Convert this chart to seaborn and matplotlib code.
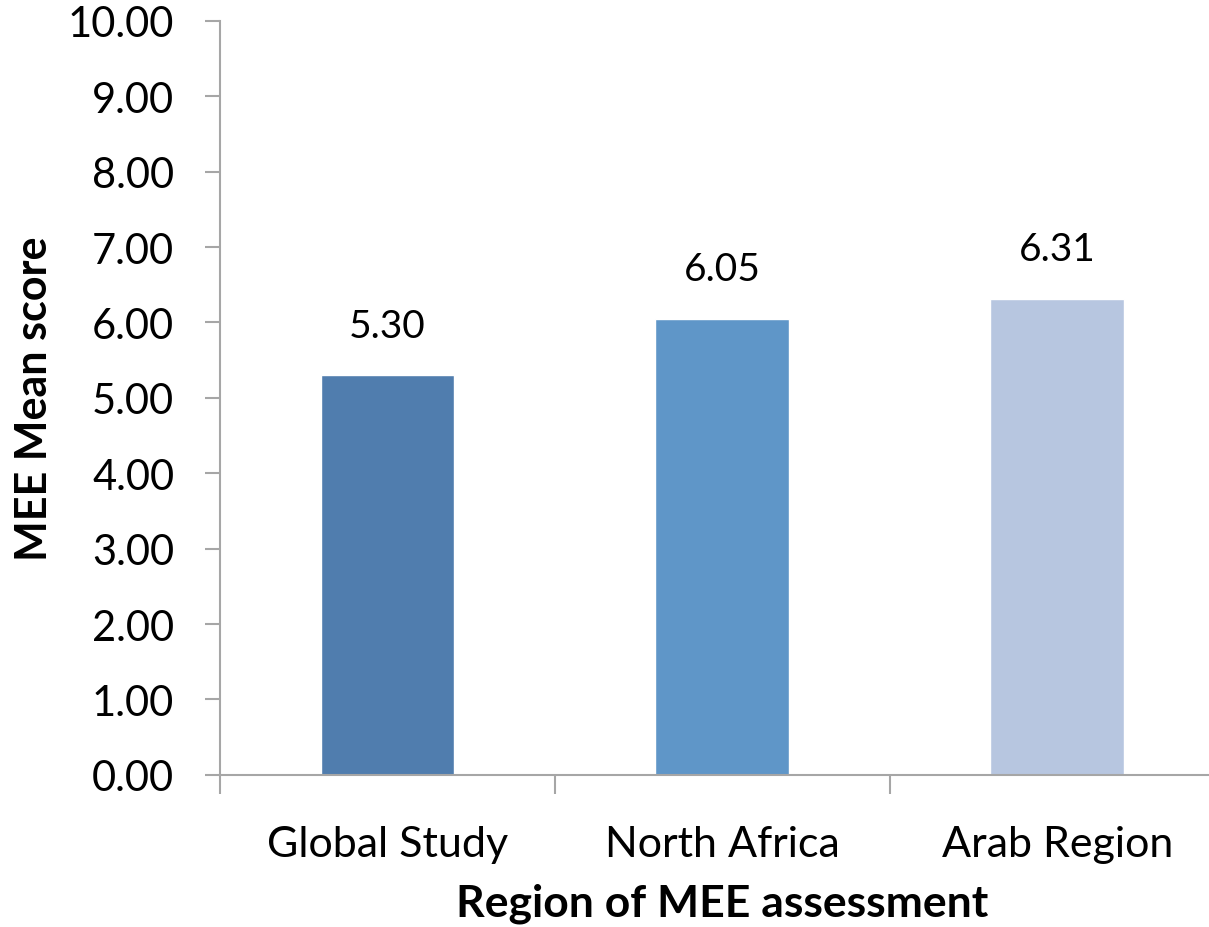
import matplotlib
matplotlib.use("Agg")
import matplotlib.pyplot as plt
import seaborn as sns
import pandas as pd

regions = ["Global Study", "North Africa", "Arab Region"]
scores = [5.30, 6.05, 6.31]
colors = ["#507DAE", "#5F96C8", "#B7C6E0"]

data = pd.DataFrame({"Region": regions, "Score": scores})

sns.set_style("white")
plt.rcParams["font.family"] = ["Lato", "DejaVu Sans"]
plt.rcParams["text.color"] = "black"
plt.rcParams["axes.labelcolor"] = "black"
plt.rcParams["xtick.labelcolor"] = "black"
plt.rcParams["ytick.labelcolor"] = "black"

fig = plt.figure(figsize=(12.09, 9.28), dpi=100)
ax = fig.add_axes([0.182, 0.164, 0.831, 0.8125])

sns.barplot(data=data, x="Region", y="Score", hue="Region", palette=colors,
            width=0.4, legend=False, ax=ax, saturation=1)

for i, v in enumerate(scores):
    ax.text(i, v + 0.42, f"{v:.2f}", ha="center", va="bottom", fontsize=28)

ax.set_xlim(-0.5, 2.5)
ax.set_ylim(0, 10)
ax.set_yticks(range(0, 11))
ax.set_yticklabels([f"{t:.2f}" for t in range(0, 11)], fontsize=30)
ax.tick_params(axis="y", length=11, width=1.5, color="#A6A6A6", direction="out", left=True, pad=22)
ax.tick_params(axis="x", which="major", length=0, labelsize=31, pad=36)
ax.set_xticks([-0.5, 0.5, 1.5, 2.5], minor=True)
ax.tick_params(axis="x", which="minor", length=14, width=1.5, color="#A6A6A6", direction="out", bottom=True)

for s in ["top", "right"]:
    ax.spines[s].set_visible(False)
for s in ["left", "bottom"]:
    ax.spines[s].set_color("#A6A6A6")
    ax.spines[s].set_linewidth(1.5)

ax.set_xlabel("Region of MEE assessment", fontsize=32, fontweight="bold", labelpad=14)
ax.set_ylabel("MEE Mean score", fontsize=31, fontweight="bold", labelpad=10)

fig.savefig("out.png", dpi=100)
